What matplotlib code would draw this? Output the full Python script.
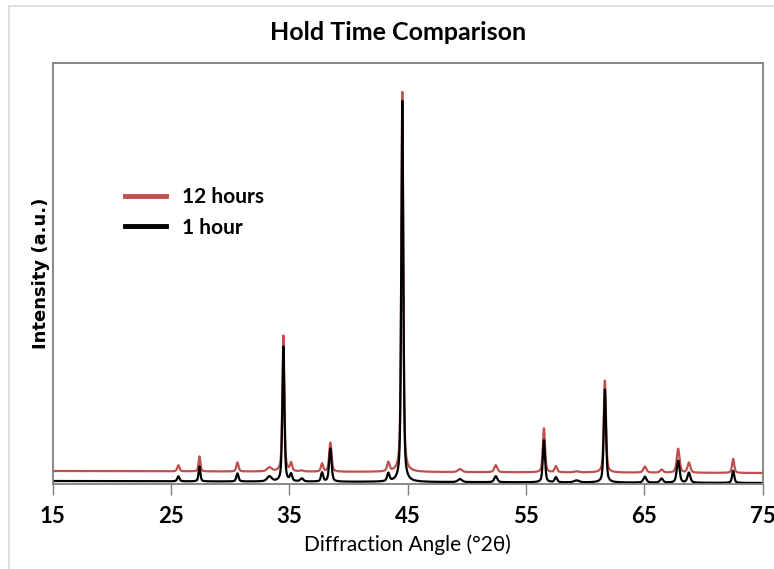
import numpy as np
import matplotlib.pyplot as plt
from matplotlib.patches import Rectangle

# peak list: 2theta, height (12 h), height (1 h), fwhm
peak_pos = [25.64, 27.42, 30.63, 33.33, 34.51, 35.16, 36.06, 37.78, 38.48,
            43.38, 44.56, 49.43, 52.46, 56.53, 57.54, 59.29, 61.68, 65.06,
            66.47, 67.87, 68.78, 72.52]
h_12h = [6, 15, 9, 4, 136, 8, 1, 8, 29, 9, 380, 3, 7, 44, 6, 1, 92, 6, 3, 24, 10, 14]
h_1h = [5, 15, 8, 5, 135, 7, 3, 9, 33, 8, 381, 3, 6, 42, 5, 2, 93, 6, 4, 22, 10, 12]
fwhm = [0.22, 0.18, 0.22, 0.45, 0.2, 0.22, 0.3, 0.22, 0.24, 0.24, 0.2, 0.4, 0.3,
        0.22, 0.25, 0.5, 0.22, 0.3, 0.3, 0.28, 0.28, 0.22]
base_12h = (13, 11)  # background at 15 and 75 deg
base_1h = (3, 1)

xticks = [15, 25, 35, 45, 55, 65, 75]
red = '#C0504D'

tth = np.arange(15, 75.001, 0.01)


def pattern(heights, base):
    y = base[0] + (base[1] - base[0]) * (tth - 15) / 60
    for p, h, w in zip(peak_pos, heights, fwhm):
        g = np.exp(-4 * np.log(2) * ((tth - p) / w) ** 2)
        lor = 1 / (1 + 4 * ((tth - p) / w) ** 2)
        y = y + h * (0.5 * g + 0.5 * lor)
    return y


fig = plt.figure(figsize=(7.74, 5.69), dpi=100)
fig.patches.append(Rectangle((9 / 774, -0.1), 1.1, 1.1 - 6 / 569,
                             transform=fig.transFigure, fill=False,
                             edgecolor='#d9d9d9', lw=1.2))
ax = fig.add_axes([52.5 / 774, 1 - 484 / 569, 710 / 774, 421 / 569])

ax.plot(tth, pattern(h_12h, base_12h), color=red, lw=1.6, label='12 hours')
ax.plot(tth, pattern(h_1h, base_1h), color='black', lw=1.6, label='1 hour')

ax.set_xlim(15, 75)
ax.set_ylim(0, 421)
ax.set_xticks(xticks)
ax.set_yticks([])
for s in ax.spines.values():
    s.set_color('#7f7f7f')
    s.set_linewidth(1.3)
ax.tick_params(axis='x', direction='out', length=8, width=1, color='#7f7f7f',
               pad=8, labelsize=16)
for t in ax.get_xticklabels():
    t.set_fontfamily('Lato')
    t.set_fontweight('bold')

ax.set_xlabel('Diffraction Angle (°2θ)', fontsize=15, family='Lato', labelpad=5)
ax.set_ylabel('Intensity (a.u.)', fontsize=13, fontweight='bold', labelpad=2)
fig.text(0.514, 1 - 33 / 569, 'Hold Time Comparison', ha='center', va='center',
         fontsize=18, fontweight='bold', family='Lato')

leg = ax.legend(loc='center left', bbox_to_anchor=(0.075, 0.645), frameon=False,
                handlelength=2.0, handletextpad=0.75, labelspacing=0.5,
                prop={'family': 'Lato', 'weight': 'bold', 'size': 15})
for line in leg.get_lines():
    line.set_linewidth(3.5)

fig.savefig('out.png', dpi=100)
